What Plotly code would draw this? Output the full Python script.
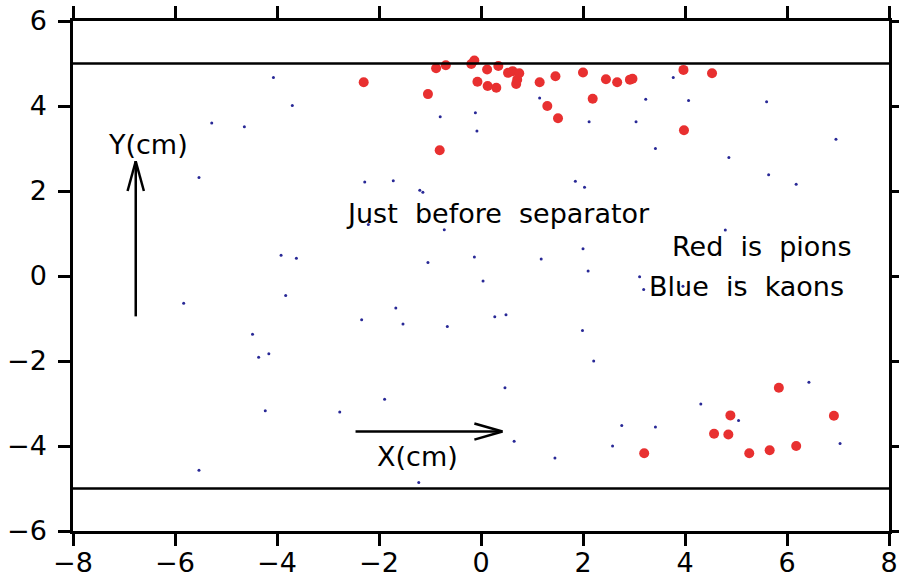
import plotly.graph_objects as go

# Pions (red)
pion_x = [-2.30, -0.88, -0.69, -0.19, -0.13, 0.12, 0.34, 0.53, 0.62, 0.75, 0.69, 0.71,
          -0.07, 0.13, 0.30, -1.04, 1.15, 1.46, 2.00, 1.30, 1.51, 2.19, 2.45, 2.67,
          2.92, 2.97, -0.81, 3.97, 4.53, 3.98,
          3.20, 4.57, 4.85, 4.89, 5.84, 5.26, 5.66, 6.18, 6.92]
pion_y = [4.56, 4.89, 4.96, 4.99, 5.07, 4.86, 4.94, 4.78, 4.82, 4.77, 4.52, 4.62,
          4.57, 4.47, 4.43, 4.28, 4.56, 4.70, 4.79, 4.00, 3.71, 4.17, 4.63, 4.56,
          4.62, 4.64, 2.96, 4.85, 4.77, 3.43,
          -4.17, -3.71, -3.73, -3.28, -2.63, -4.17, -4.10, -4.00, -3.29]

# Kaons (blue)
kaon_x = [-4.07, -3.70, -5.28, -4.64, -5.53,
          1.15, -0.80, -0.11, -0.08, 2.12, 3.04, -2.28, -1.72, -1.20, -1.14, 1.85, 2.03,
          3.77, 3.23, 4.07, 5.60, 3.42, 6.96, 4.86, 5.64, 6.18,
          -3.92, -3.62, -5.83, -3.83, -4.48, -4.36, -4.16,
          -2.21, -0.72, -1.04, -0.13, 0.04, 1.18, 2.00, 2.10, 3.11, -1.67, -2.34, -1.53,
          -0.66, 0.27, 0.49, 1.99, 2.21, 0.47,
          4.79, 3.19, 3.96, 5.01, 6.43,
          -4.23, -2.77, -5.53,
          -1.89, 0.65, 1.45, 2.58, 2.76, -1.22,
          3.42, 4.31, 5.05, 7.04]
kaon_y = [4.67, 4.01, 3.60, 3.51, 2.32,
          4.19, 3.75, 3.84, 3.41, 3.63, 3.63, 2.21, 2.24, 2.02, 1.97, 2.23, 2.09,
          4.67, 4.16, 4.13, 4.10, 3.00, 3.22, 2.79, 2.38, 2.16,
          0.49, 0.42, -0.64, -0.46, -1.37, -1.91, -1.83,
          1.21, 1.09, 0.32, 0.45, -0.12, 0.40, 0.64, 0.12, -0.02, -0.75, -1.03, -1.13,
          -1.19, -0.96, -0.91, -1.28, -2.00, -2.63,
          1.08, -0.32, -0.24, -0.14, -2.50,
          -3.17, -3.20, -4.57,
          -2.90, -3.89, -4.28, -4.00, -3.52, -4.86,
          -3.55, -3.01, -3.40, -3.94]

tick_vals_x = [-8, -6, -4, -2, 0, 2, 4, 6, 8]
tick_vals_y = [-6, -4, -2, 0, 2, 4, 6]
boundary_y = [5, -5]

fig = go.Figure()
fig.add_trace(go.Scatter(x=kaon_x, y=kaon_y, mode="markers",
                         marker=dict(size=3, color="rgb(40,40,150)"),
                         showlegend=False, hoverinfo="skip"))
fig.add_trace(go.Scatter(x=pion_x, y=pion_y, mode="markers",
                         marker=dict(size=10, color="rgb(232,48,48)"),
                         showlegend=False, hoverinfo="skip"))

LW = 2.5
shapes = []
for yb in boundary_y:
    shapes.append(dict(type="line", xref="x", yref="y", x0=-8, x1=8, y0=yb, y1=yb,
                       line=dict(color="black", width=LW)))
# Y arrow
ya_x, ya_y0, ya_y1 = -6.77, -0.95, 2.70
shapes.append(dict(type="line", x0=ya_x, x1=ya_x, y0=ya_y0, y1=ya_y1, line=dict(color="black", width=LW)))
shapes.append(dict(type="line", x0=ya_x, x1=ya_x - 0.16, y0=ya_y1, y1=ya_y1 - 0.70, line=dict(color="black", width=LW)))
shapes.append(dict(type="line", x0=ya_x, x1=ya_x + 0.16, y0=ya_y1, y1=ya_y1 - 0.70, line=dict(color="black", width=LW)))
# X arrow
xa_y, xa_x0, xa_x1 = -3.66, -2.46, 0.42
shapes.append(dict(type="line", x0=xa_x0, x1=xa_x1, y0=xa_y, y1=xa_y, line=dict(color="black", width=LW)))
shapes.append(dict(type="line", x0=xa_x1, x1=xa_x1 - 0.55, y0=xa_y, y1=xa_y + 0.19, line=dict(color="black", width=LW)))
shapes.append(dict(type="line", x0=xa_x1, x1=xa_x1 - 0.55, y0=xa_y, y1=xa_y - 0.19, line=dict(color="black", width=LW)))

tfont = dict(family="DejaVu Sans", size=27, color="black")
annotations = [
    dict(x=0.34, y=1.47, text="Just  before  separator", showarrow=False, font=tfont),
    dict(x=5.50, y=0.69, text="Red  is  pions", showarrow=False, font=tfont),
    dict(x=5.20, y=-0.24, text="Blue  is  kaons", showarrow=False, font=tfont),
    dict(x=-6.53, y=3.09, text="Y(cm)", showarrow=False, font=tfont),
    dict(x=-1.25, y=-4.25, text="X(cm)", showarrow=False, font=tfont),
]

axis_common = dict(showline=True, linewidth=LW, linecolor="black", mirror="ticks",
                   ticks="outside", ticklen=12, tickwidth=LW, tickcolor="black",
                   showgrid=False, zeroline=False, automargin=False,
                   tickfont=dict(family="DejaVu Sans", size=27, color="black"))

fig.update_layout(
    width=899, height=579,
    margin=dict(l=73, r=10, t=21, b=48),
    paper_bgcolor="white", plot_bgcolor="white",
    shapes=shapes, annotations=annotations,
    xaxis=dict(range=[-8, 8], tickvals=tick_vals_x, ticklabelstandoff=-6, **axis_common),
    yaxis=dict(range=[-6, 6], tickvals=tick_vals_y, ticklabelstandoff=6, **axis_common),
)

fig.write_html("out.html", config={"displayModeBar": False},
               post_script="document.body.style.margin='0px';document.body.style.overflow='hidden';")
